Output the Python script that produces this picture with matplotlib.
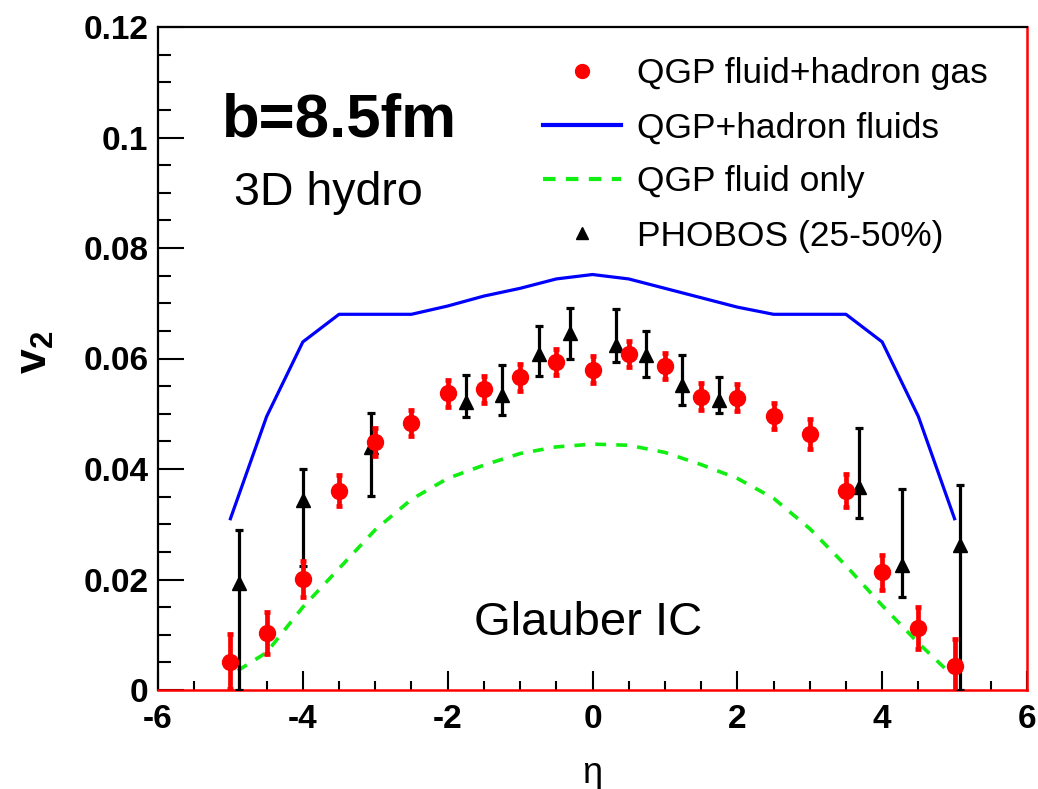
import matplotlib
matplotlib.use("Agg")
import matplotlib.pyplot as plt
from matplotlib.lines import Line2D
from matplotlib.ticker import MultipleLocator, FuncFormatter

plt.rcParams["font.family"] = ["Liberation Sans", "DejaVu Sans"]
plt.rcParams["axes.unicode_minus"] = False
plt.rcParams["mathtext.fontset"] = "custom"
plt.rcParams["mathtext.bf"] = "Liberation Sans:bold"
plt.rcParams["mathtext.rm"] = "Liberation Sans"

# QGP fluid + hadron gas (hybrid), points with errors
eta_hyb = [-5, -4.5, -4, -3.5, -3, -2.5, -2, -1.5, -1, -0.5, 0,
           0.5, 1, 1.5, 2, 2.5, 3, 3.5, 4, 4.5, 5]
v2_hyb = [0.0051, 0.0103, 0.0201, 0.0361, 0.0449, 0.0483, 0.0537, 0.0544, 0.0566, 0.0594, 0.0580,
          0.0608, 0.0586, 0.0531, 0.0529, 0.0496, 0.0463, 0.0361, 0.0213, 0.0112, 0.0043]
err_hyb = [0.0050, 0.0038, 0.0033, 0.0028, 0.0026, 0.0024, 0.0024, 0.0024, 0.0024, 0.0024, 0.0024,
           0.0024, 0.0024, 0.0024, 0.0024, 0.0024, 0.0027, 0.0030, 0.0032, 0.0038, 0.0050]

# QGP + hadron fluids
eta_fluids = [-5, -4.5, -4, -3.5, -3, -2.5, -2, -1.5, -1, -0.5, 0,
              0.5, 1, 1.5, 2, 2.5, 3, 3.5, 4, 4.5, 5]
v2_fluids = [0.0310, 0.0495, 0.0630, 0.0680, 0.0680, 0.0680, 0.0695, 0.0713, 0.0727, 0.0744, 0.0752,
             0.0744, 0.0727, 0.0710, 0.0693, 0.0680, 0.0680, 0.0680, 0.0630, 0.0495, 0.0310]

# QGP fluid only
eta_qgp = [-4.9, -4.5, -4, -3.5, -3, -2.5, -2, -1.5, -1, -0.5, 0,
           0.5, 1, 1.5, 2, 2.5, 3, 3.5, 4, 4.5, 4.9]
v2_qgp = [0.0035, 0.0068, 0.0150, 0.0220, 0.0290, 0.0345, 0.0383, 0.0407, 0.0428, 0.0440, 0.0445,
          0.0443, 0.0430, 0.0408, 0.0383, 0.0347, 0.0292, 0.0225, 0.0153, 0.0085, 0.0035]

# PHOBOS (25-50%)
eta_phobos = [-4.88, -4.0, -3.06, -1.74, -1.25, -0.74, -0.31, 0.32, 0.74, 1.24, 1.74, 3.68, 4.27, 5.07]
v2_phobos = [0.0193, 0.0344, 0.0440, 0.0522, 0.0534, 0.0609, 0.0646, 0.0624, 0.0606, 0.0552, 0.0525, 0.0368, 0.0226, 0.0262]
v2_phobos_lo = [0.0000, 0.0225, 0.0352, 0.0495, 0.0498, 0.0569, 0.0599, 0.0594, 0.0566, 0.0516, 0.0501, 0.0311, 0.0169, 0.0000]
v2_phobos_hi = [0.0290, 0.0400, 0.0502, 0.0570, 0.0588, 0.0658, 0.0691, 0.0689, 0.0650, 0.0606, 0.0567, 0.0475, 0.0363, 0.0371]

labels = ["QGP fluid+hadron gas", "QGP+hadron fluids", "QGP fluid only", "PHOBOS (25-50%)"]

fig = plt.figure(figsize=(10.38, 7.89), dpi=100)
ax = fig.add_axes([158 / 1038, 1 - 690 / 789, (1027 - 158) / 1038, (690 - 27) / 789])

ax.plot(eta_fluids, v2_fluids, color="#0000ff", lw=2.3, zorder=2)
ax.plot(eta_qgp, v2_qgp, color="#11ee11", lw=2.6, ls=(0, (3, 2.8)), zorder=2)

yerr_ph = [[v - lo for v, lo in zip(v2_phobos, v2_phobos_lo)],
           [hi - v for v, hi in zip(v2_phobos, v2_phobos_hi)]]
ax.errorbar(eta_phobos, v2_phobos, yerr=yerr_ph, fmt="^", color="black", ms=9.5,
            elinewidth=2.3, capsize=3, capthick=2.3, zorder=3)
ax.errorbar(eta_hyb, v2_hyb, yerr=err_hyb, fmt="o", color="#ff0000", ms=11.5,
            elinewidth=3.4, capsize=2.4, capthick=3.4, zorder=4)

ax.set_xlim(-6, 6)
ax.set_ylim(0, 0.12)
ax.xaxis.set_major_locator(MultipleLocator(2))
ax.xaxis.set_minor_locator(MultipleLocator(0.5))
ax.yaxis.set_major_locator(MultipleLocator(0.02))
ax.yaxis.set_minor_locator(MultipleLocator(0.005))
ax.yaxis.set_major_formatter(FuncFormatter(lambda v, p: "%g" % round(v, 3)))
ax.xaxis.set_major_formatter(FuncFormatter(lambda v, p: "%g" % v))

ax.tick_params(which="both", direction="in", top=False, right=False, width=1.5, colors="black")
ax.tick_params(axis="x", which="major", length=14, pad=10)
ax.tick_params(axis="x", which="minor", length=6.7)
ax.tick_params(axis="y", which="major", length=19, pad=7)
ax.tick_params(axis="y", which="minor", length=9.5)
for lab in ax.get_xticklabels() + ax.get_yticklabels():
    lab.set_fontsize(24)
    lab.set_fontweight("bold")

for side in ["left", "top"]:
    ax.spines[side].set_linewidth(1.6)
    ax.spines[side].set_color("black")
for side in ["right", "bottom"]:
    ax.spines[side].set_linewidth(1.8)
    ax.spines[side].set_color("#ff0000")

ax.set_xlabel("η", fontsize=26, va="baseline")
ax.xaxis.set_label_coords(0.5, -0.140)
ax.text(-0.141, 0.51, r"$\mathbf{v}_{\mathbf{2}}$", transform=ax.transAxes,
        rotation=90, ha="center", va="center", fontsize=32)

ax.text(-5.12, 0.1001, "b=8.5fm", fontsize=44.5, fontweight="bold", va="baseline")
ax.text(-4.95, 0.0878, "3D hydro", fontsize=33.5, va="baseline")
ax.text(-1.63, 0.00995, "Glauber IC", fontsize=34, va="baseline")

handles = [
    Line2D([], [], ls="none", marker="o", color="#ff0000", ms=10),
    Line2D([], [], color="#0000ff", lw=3),
    Line2D([], [], color="#11ee11", lw=3, ls=(0, (3, 2.5))),
    Line2D([], [], ls="none", marker="^", color="black", ms=9),
]
ax.legend(handles, labels, loc="upper left", bbox_to_anchor=(543 / 1038, 1 - 57 / 789),
          bbox_transform=fig.transFigure, frameon=False, fontsize=25.5,
          handlelength=2.2, handletextpad=0.45, labelspacing=0.6,
          borderpad=0, borderaxespad=0)

fig.savefig("out.png", dpi=100)
